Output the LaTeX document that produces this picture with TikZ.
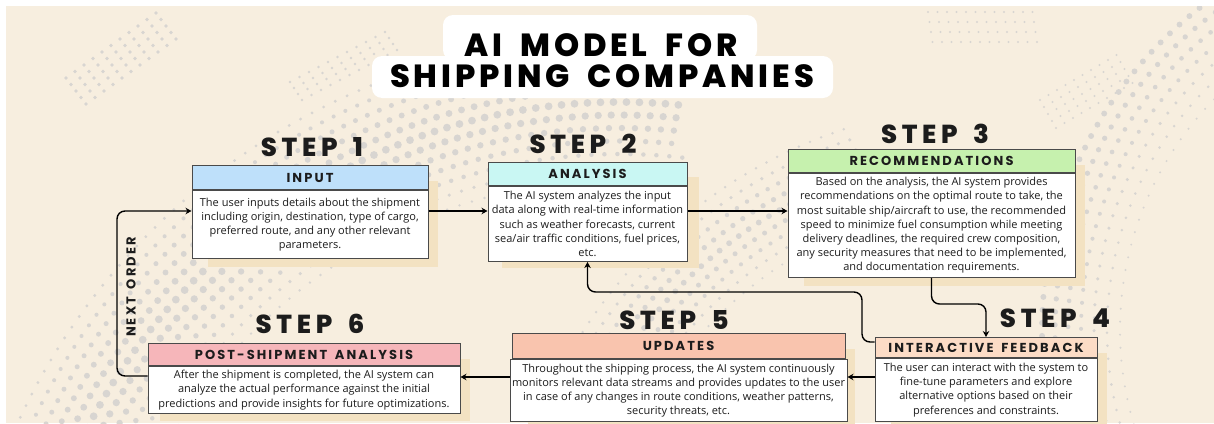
\documentclass[tikz,border=0pt]{standalone}
\usepackage{fontspec}
\setmainfont{Open Sans}
\newfontfamily\titlefont{Poppins ExtraBold}[LetterSpace=12,WordSpace=1.8]
\newfontfamily\stepfont{Poppins ExtraBold}[LetterSpace=18,WordSpace=1.6]
\newfontfamily\headfont{Poppins}[LetterSpace=16,WordSpace=1.6]
\usetikzlibrary{arrows.meta,calc}

\definecolor{paper}{HTML}{F7EEDF}
\definecolor{dotc}{HTML}{D8D5D1}
\definecolor{cardshadow}{HTML}{F3E2C2}
\definecolor{frame}{HTML}{4A4A4A}
\definecolor{ink}{HTML}{1C1C1C}
\definecolor{cinput}{HTML}{BEE0FA}
\definecolor{canalysis}{HTML}{C9F7F3}
\definecolor{crecom}{HTML}{C6F1AE}
\definecolor{cfeed}{HTML}{FCDCC6}
\definecolor{cupd}{HTML}{F9C4AE}
\definecolor{cpost}{HTML}{F6B6BA}

\tikzset{
  hdr/.style={draw=frame, line width=1pt, anchor=north, inner sep=0pt, text=ink,
    font=\headfont\bfseries\fontsize{13}{15}\selectfont},
  bodybox/.style={draw=frame, line width=1pt, fill=white, anchor=north, inner sep=2pt,
    align=center, text=ink, font=\fontsize{11}{14.2}\selectfont},
  steplbl/.style={inner sep=0pt, text=ink, font=\stepfont\fontsize{26}{30}\selectfont},
  titleln/.style={inner sep=0pt, text=black, font=\titlefont\fontsize{32}{35}\selectfont},
  arr/.style={draw=black, line width=1.4pt, rounded corners=8pt,
    -{Stealth[length=6pt,width=6.5pt]}},
}

\begin{document}
\begin{tikzpicture}[x=1pt,y=-1pt]
\useasboundingbox (0,0) rectangle (1214,423);
\fill[white] (0,0) rectangle (1214,423);
\fill[paper] (6,6) rectangle (1214,423);

% halftone dot bands in the background
\begin{scope}
\clip (6,6) rectangle (1214,423);
% wide arc on the left
\foreach \r [count=\i] in {520,533,...,670}{
  \pgfmathsetmacro\da{745/\r}
  \pgfmathsetmacro\dr{max(0.9,4-abs(\r-595)/28)}
  \pgfmathsetmacro\off{194+mod(\i,2)*\da/2}
  \pgfmathtruncatemacro\nn{82/\da}
  \foreach \k in {0,...,\nn}{
    \pgfmathsetmacro\ang{\off+\k*\da}
    \fill[dotc, shift={(620,700)}] (\ang:\r) circle (\dr);
  }
}
% arc through the middle
\foreach \r [count=\i] in {400,412,...,500}{
  \pgfmathsetmacro\da{690/\r}
  \pgfmathsetmacro\dr{max(0.9,3-abs(\r-450)/28)}
  \pgfmathsetmacro\off{212+mod(\i,2)*\da/2}
  \pgfmathtruncatemacro\nn{40/\da}
  \foreach \k in {0,...,\nn}{
    \pgfmathsetmacro\ang{\off+\k*\da}
    \fill[dotc, shift={(1000,600)}] (\ang:\r) circle (\dr);
  }
}
% arc along the right edge
\foreach \r [count=\i] in {330,343,...,420}{
  \pgfmathsetmacro\da{745/\r}
  \pgfmathsetmacro\dr{1.1+(\r-330)/42}
  \pgfmathsetmacro\off{160+mod(\i,2)*\da/2}
  \pgfmathtruncatemacro\nn{76/\da}
  \foreach \k in {0,...,\nn}{
    \pgfmathsetmacro\ang{\off+\k*\da}
    \fill[dotc, shift={(1450,330)}] (\ang:\r) circle (\dr);
  }
}
% fine dot patches
\foreach \i in {0,...,10}{
  \foreach \j in {0,...,4}{
    \fill[dotc] ($(66,78)+\i*(9,-6.5)+\j*(5,6.5)$) circle (1.8);
  }
}
\foreach \i in {0,...,10}{
  \foreach \j in {0,...,3}{
    \fill[dotc] ($(290,82)+\i*(9.5,-5)+\j*(4,6)$) circle (1.3);
  }
}
\foreach \i in {0,...,11}{
  \foreach \j in {0,...,3}{
    \fill[dotc] ($(928,12)+\i*(9.5,0)+\j*(1.5,10)$) circle (1.1);
  }
}
\foreach \i in {0,...,9}{
  \foreach \j in {0,...,4}{
    \fill[dotc] ($(1040,100)+\i*(8.5,-5)+\j*(4,7)$) circle (1.1);
  }
}
\end{scope}

% title
\fill[white, rounded corners=10pt] (443,15) rectangle (757,60);
\fill[white, rounded corners=10pt] (372,56) rectangle (833,98);
\node[titleln] (title1) at (601,45) {AI MODEL FOR};
\node[titleln] (title2) at (602,76.5) {SHIPPING COMPANIES};

% card shadows
\fill[cardshadow] (208,181) rectangle (438,267);
\fill[cardshadow] (502,177) rectangle (699,268);
\fill[cardshadow] (804,165) rectangle (1085,286);
\fill[cardshadow] (891,353) rectangle (1107,430);
\fill[cardshadow] (528,349) rectangle (855,430);
\fill[cardshadow] (160,359) rectangle (470,421);

% step labels
\node[steplbl] (s1) at (312,147) {STEP 1};
\node[steplbl] (s2) at (583,144) {STEP 2};
\node[steplbl] (s3) at (935,133.5) {STEP 3};
\node[steplbl] (s4) at (1055,318.5) {STEP 4};
\node[steplbl] (s5) at (674,320) {STEP 5};
\node[steplbl] (s6) at (310,324) {STEP 6};

% cards: header strip + body
\node[hdr, fill=cinput, minimum width=236pt, minimum height=24pt] (h1) at (310,165) {INPUT};
\node[bodybox, minimum width=236pt, minimum height=68pt] (b1) at (h1.south)
  {The user inputs details about the shipment\\including origin, destination, type of cargo,\\preferred route, and any other relevant\\parameters.};

\node[hdr, fill=canalysis, minimum width=199pt, minimum height=23pt] (h2) at (587.5,162) {ANALYSIS};
\node[bodybox, minimum width=199pt, minimum height=75pt] (b2) at (h2.south)
  {The AI system analyzes the input\\data along with real-time information\\such as weather forecasts, current\\sea/air traffic conditions, fuel prices,\\etc.};

\node[hdr, fill=crecom, minimum width=287pt, minimum height=23pt] (h3) at (931.5,149) {RECOMMENDATIONS};
\node[bodybox, minimum width=287pt, minimum height=104pt] (b3) at (h3.south)
  {Based on the analysis, the AI system provides\\recommendations on the optimal route to take, the\\most suitable ship/aircraft to use, the recommended\\speed to minimize fuel consumption while meeting\\delivery deadlines, the required crew composition,\\any security measures that need to be implemented,\\and documentation requirements.};

\node[hdr, fill=cfeed, minimum width=222pt, minimum height=20pt] (h4) at (986,337) {INTERACTIVE FEEDBACK};
\node[bodybox, minimum width=222pt, minimum height=63pt] (b4) at (h4.south)
  {The user can interact with the system to\\fine-tune parameters and explore\\alternative options based on their\\preferences and constraints.};

\node[hdr, fill=cupd, minimum width=333pt, minimum height=25pt] (h5) at (678.5,333) {UPDATES};
\node[bodybox, minimum width=333pt, minimum height=62pt] (b5) at (h5.south)
  {Throughout the shipping process, the AI system continuously\\monitors relevant data streams and provides updates to the user\\in case of any changes in route conditions, weather patterns,\\security threats, etc.};

\node[hdr, fill=cpost, minimum width=312pt, minimum height=22pt] (h6) at (304,343) {POST-SHIPMENT ANALYSIS};
\node[bodybox, minimum width=312pt, minimum height=47pt] (b6) at (h6.south)
  {After the shipment is completed, the AI system can\\analyze the actual performance against the initial\\predictions and provide insights for future optimizations.};

% connectors
\coordinate (loopA) at (862,342);
\coordinate (loopB) at (862,292);
\coordinate (backL) at (117,376);
\coordinate (backT) at (117,211);

\draw[arr] (b1.east |- 0,211) -- (b2.west |- 0,211);
\draw[arr] (b2.east |- 0,211) -- (b3.west |- 0,211);
\draw[arr] (b3.south) -- (b3.south |- 0,304) -- (h4.north |- 0,304) -- (h4.north);
\draw[arr] (h4.west |- loopA) -- (loopA) -- (loopB) -- (b2.south |- loopB) -- (b2.south);
\draw[arr] (b4.west |- 0,377) -- (b5.east |- 0,377);
\draw[arr] (b5.west |- 0,377) -- (b6.east |- 0,377);
\draw[arr] (b6.west |- backL) -- (backL) -- (backT) -- (b1.west |- backT);

\node[rotate=90, inner sep=0pt, text=ink, font=\headfont\bfseries\fontsize{13}{15}\selectfont] (next) at (131,287) {NEXT ORDER};
\end{tikzpicture}
\end{document}
